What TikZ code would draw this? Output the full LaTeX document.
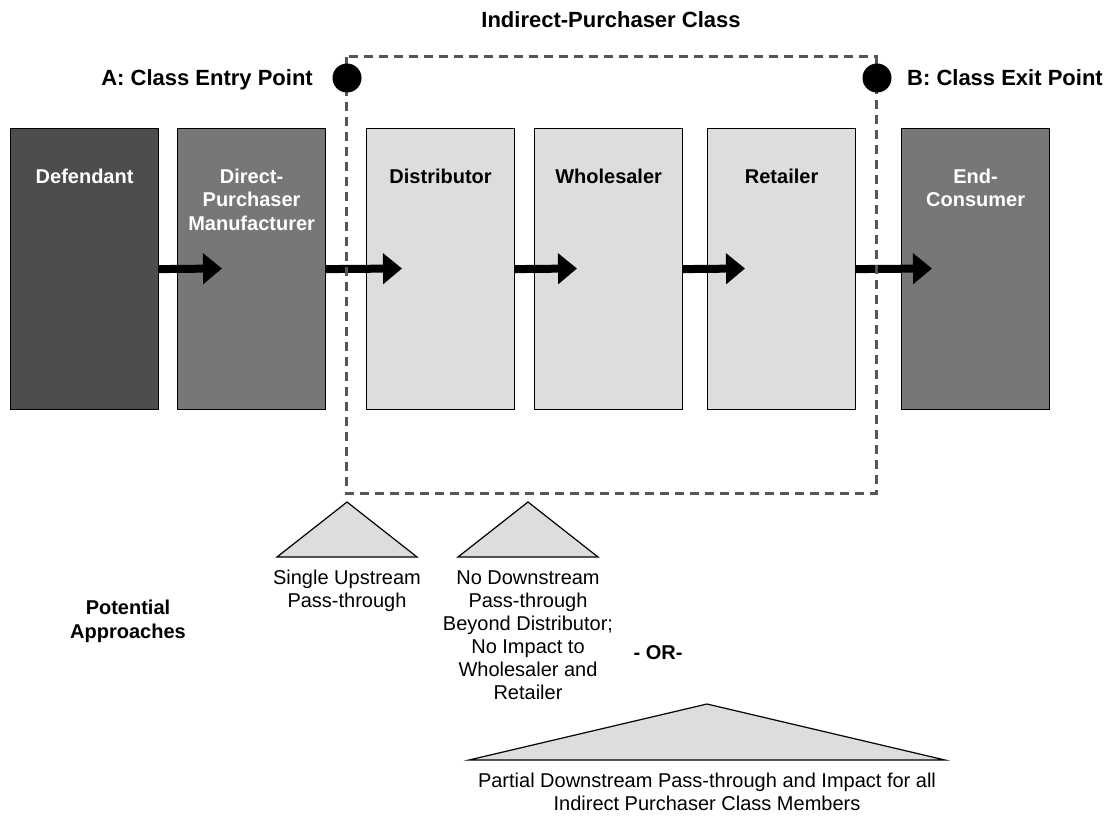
\documentclass[tikz,border=0pt]{standalone}
\usepackage{fontspec}
\setmainfont{Liberation Sans}
\usetikzlibrary{arrows.meta,calc}
\definecolor{darkbox}{HTML}{4D4D4D}
\definecolor{midbox}{HTML}{777777}
\definecolor{lightbox}{HTML}{DDDDDD}
\definecolor{dashgray}{HTML}{555555}
\begin{document}
\begin{tikzpicture}[x=1pt,y=-1pt,
  box/.style={draw=black,line width=1.2pt,minimum width=148pt,minimum height=281pt,inner sep=0pt,anchor=north west},
  blabel/.style={font=\fontsize{20}{23.5}\selectfont\bfseries,align=center,anchor=base,inner sep=0pt},
  hlabel/.style={font=\fontsize{22}{26}\selectfont\bfseries,anchor=base,inner sep=0pt},
  body/.style={font=\fontsize{20}{23}\selectfont,align=center,anchor=base,inner sep=0pt},
  flow/.style={line width=8pt,-{Triangle[length=19pt,width=30pt]}},
  classline/.style={draw=dashgray,line width=3pt,dash pattern=on 9pt off 6pt},
  dot/.style={circle,fill=black,minimum size=29pt,inner sep=0pt},
  tri/.style={fill=lightbox,draw=black,line width=1.2pt,line join=miter}]
\fill[white] (0,0) rectangle (1104,816);
\useasboundingbox (0,0) rectangle (1104,816);

% boxes
\node[box,fill=darkbox] (def) at (10,128) {};
\node[box,fill=midbox] (dpm) at (177,128) {};
\node[box,fill=lightbox] (dis) at (366,128) {};
\node[box,fill=lightbox] (who) at (534,128) {};
\node[box,fill=lightbox] (ret) at (707,128) {};
\node[box,fill=midbox] (end) at (901,128) {};

% box labels (anchor base = baseline of the last line)
\node[blabel,text=white] (defL) at ($(def.north)+(0,55)$) {Defendant};
\node[blabel,text=white] (dpmL) at ($(dpm.north)+(0,102)$) {Direct-\\Purchaser\\Manufacturer};
\node[blabel] (disL) at ($(dis.north)+(0,55)$) {Distributor};
\node[blabel] (whoL) at ($(who.north)+(0,55)$) {Wholesaler};
\node[blabel] (retL) at ($(ret.north)+(0,55)$) {Retailer};
\node[blabel,text=white] (endL) at ($(end.north)+(0,78.5)$) {End-\\Consumer};

% arrows
\coordinate (tip1) at (222,268.5);
\coordinate (tip2) at (402,268.5);
\coordinate (tip3) at (577,268.5);
\coordinate (tip4) at (745,268.5);
\coordinate (tip5) at (932,268.5);
\draw[flow] (def.east) -- (tip1);
\draw[flow] (dpm.east) -- (tip2);
\draw[flow] (dis.east) -- (tip3);
\draw[flow] (who.east) -- (tip4);
\draw[flow] (ret.east) -- (tip5);

% class boundary
\coordinate (clsNW) at (346,57);
\coordinate (clsSE) at (876,493);
\draw[classline] (clsNW) rectangle (clsSE);
\node[dot] (ptA) at (347,78) {};
\node[dot] (ptB) at (877,78) {};

% headings
\node[hlabel] (title) at (611,28) {Indirect-Purchaser Class};
\node[hlabel,anchor=base east] (labA) at (313,86) {A: Class Entry Point};
\node[hlabel,anchor=base west] (labB) at (907,86) {B: Class Exit Point};

% triangles
\coordinate (a1) at (347,502); \coordinate (b1l) at (277,557); \coordinate (b1r) at (417,557);
\coordinate (a2) at (528,502); \coordinate (b2l) at (458,557); \coordinate (b2r) at (598,557);
\coordinate (a3) at (707,704); \coordinate (b3l) at (469,760); \coordinate (b3r) at (945,760);
\draw[tri] (a1) -- (b1r) -- (b1l) -- cycle;
\draw[tri] (a2) -- (b2r) -- (b2l) -- cycle;
\draw[tri] (a3) -- (b3r) -- (b3l) -- cycle;

% approach texts (anchor base = baseline of the last line)
\node[blabel] (pot) at (128,638) {Potential\\Approaches};
\node[body] (txt1) at (347,607) {Single Upstream\\Pass-through};
\node[body] (txt2) at (528,699) {No Downstream\\Pass-through\\Beyond Distributor;\\No Impact to\\Wholesaler and\\Retailer};
\node[blabel] (orL) at (658,659) {- OR-};
\node[body] (txt3) at (707,810) {Partial Downstream Pass-through and Impact for all\\Indirect Purchaser Class Members};
\end{tikzpicture}
\end{document}
